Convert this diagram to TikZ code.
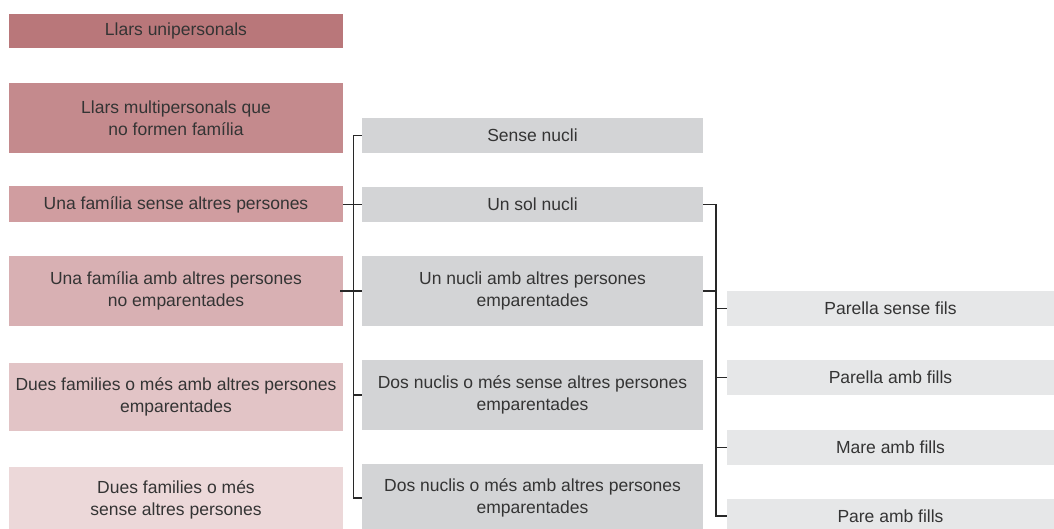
\documentclass[tikz,border=0pt]{standalone}
\usepackage{fontspec}
\setmainfont{Liberation Sans}
\definecolor{txt}{RGB}{52,52,52}
\definecolor{lnc}{RGB}{40,40,40}
\definecolor{r1}{RGB}{185,119,122}
\definecolor{r2}{RGB}{196,138,141}
\definecolor{r3}{RGB}{208,157,160}
\definecolor{r4}{RGB}{216,176,179}
\definecolor{r5}{RGB}{226,196,198}
\definecolor{r6}{RGB}{236,216,217}
\definecolor{g1}{RGB}{211,212,214}
\definecolor{g2}{RGB}{230,231,232}
\tikzset{
  box/.style={rectangle, inner sep=0pt, align=center, text=txt,
    font=\fontsize{17.5}{22}\selectfont},
  lbox/.style={box, minimum width=334pt},
  mbox/.style={box, fill=g1, minimum width=341pt},
  rbox/.style={box, fill=g2, minimum width=327pt},
  conn/.style={draw=lnc, line width=1.2pt}
}
\begin{document}
\begin{tikzpicture}[x=1pt,y=-1pt]
\useasboundingbox (0,0) rectangle (1054,529);
\begin{scope}
\clip (0,0) rectangle (1054,529);
% left column
\node[lbox, fill=r1, minimum height=34pt] (L1) at (176,31) {Llars unipersonals};
\node[lbox, fill=r2, minimum height=70pt] (L2) at (176,118) {Llars multipersonals que\\no formen família};
\node[lbox, fill=r3, minimum height=36pt] (L3) at (176,204.5) {Una família sense altres persones};
\node[lbox, fill=r4, minimum height=70pt] (L4) at (176,291) {Una família amb altres persones\\no emparentades};
\node[lbox, fill=r5, minimum height=68pt] (L5) at (176,397) {Dues families o més amb altres persones\\emparentades};
\node[lbox, fill=r6, minimum height=66pt] (L6) at (176,500) {Dues families o més\\sense altres persones};
% middle column
\node[mbox, minimum height=35pt] (M1) at (532.5,135.5) {Sense nucli};
\node[mbox, minimum height=35pt] (M2) at (532.5,204.5) {Un sol nucli};
\node[mbox, minimum height=70pt] (M3) at (532.5,291) {Un nucli amb altres persones\\emparentades};
\node[mbox, minimum height=70pt] (M4) at (532.5,395) {Dos nuclis o més sense altres persones\\emparentades};
\node[mbox, minimum height=68pt] (M5) at (532.5,498) {Dos nuclis o més amb altres persones\\emparentades};
% right column
\node[rbox, minimum height=35pt] (R1) at (890.5,308.5) {Parella sense fils};
\node[rbox, minimum height=35pt] (R2) at (890.5,377.5) {Parella amb fills};
\node[rbox, minimum height=35pt] (R3) at (890.5,447.5) {Mare amb fills};
\node[rbox, minimum height=34pt] (R4) at (890.5,516) {Pare amb fills};
% bracket coordinates
\coordinate (bl) at (353.5,0);
\coordinate (br) at (716,0);
\end{scope}
% left bracket
\draw[conn] (M1.west) -- (M1.west -| bl) -- (M5.west -| bl) -- (M5.west);
\draw[conn] (M2.west -| bl) -- (M2.west);
\draw[conn] (M3.west -| bl) -- (M3.west);
\draw[conn] (M4.west -| bl) -- (M4.west);
\draw[conn] (L3.east) -- (L3.east -| bl);
\draw[conn] ([xshift=-3pt]L4.east) -- (L4.east -| bl);
% right bracket
\draw[conn] (M2.east) -- (M2.east -| br) -- (R4.west -| br) -- (R4.west);
\draw[conn] (M3.east) -- (M3.east -| br);
\draw[conn] (R1.west -| br) -- (R1.west);
\draw[conn] (R2.west -| br) -- (R2.west);
\draw[conn] (R3.west -| br) -- (R3.west);
\end{tikzpicture}
\end{document}
